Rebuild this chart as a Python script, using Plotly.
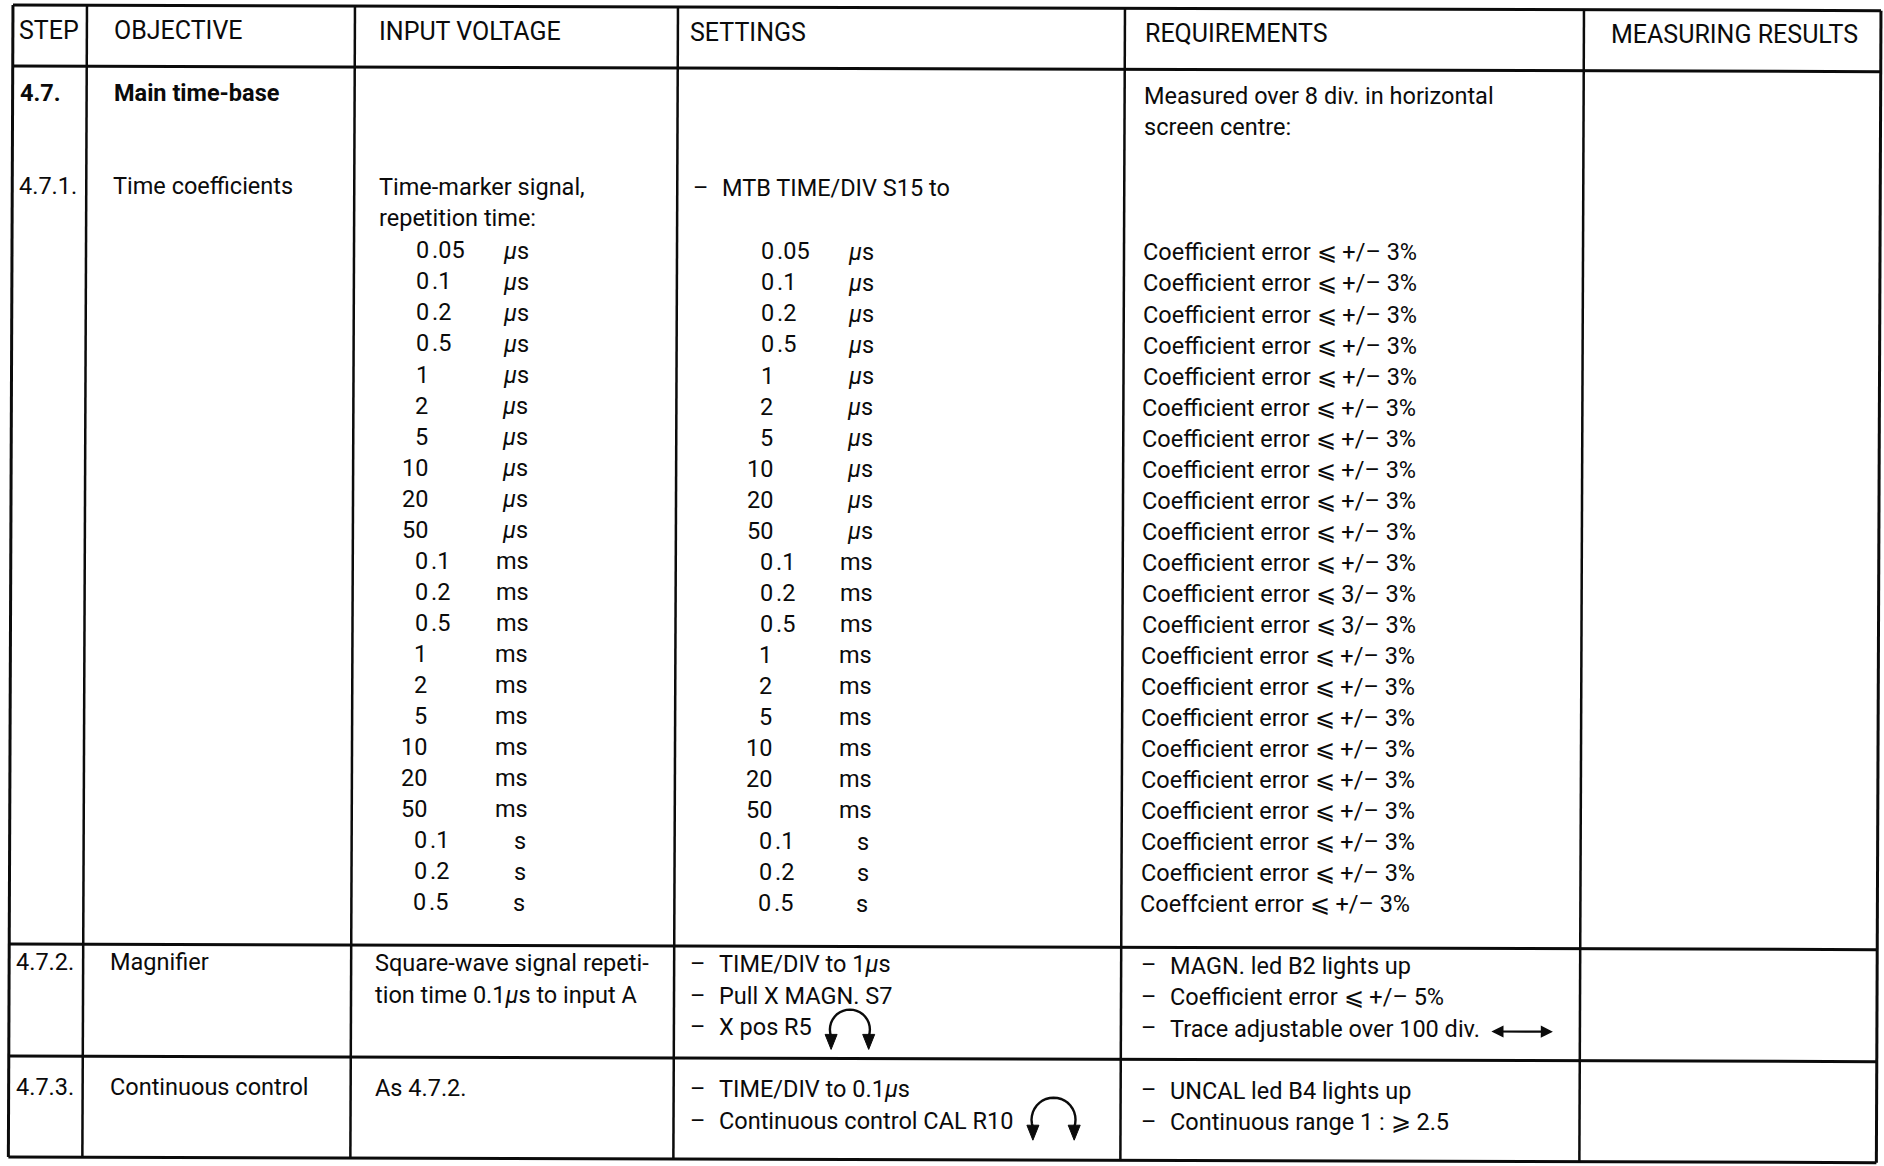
import math
import plotly.graph_objects as go

# page / scan geometry (pixels)
W, H = 1884, 1166
KV, KH = 0.004, 0.003        # slight tilt of the scanned sheet
FONT = "Roboto"
BODY = 23.5
HEAD = 25
INK = "#0b0b0b"

# --- table content ---
headers = ["STEP", "OBJECTIVE", "INPUT VOLTAGE", "SETTINGS", "REQUIREMENTS", "MEASURING RESULTS"]
steps = ["<b>4.7.</b>", "4.7.1.", "4.7.2.", "4.7.3."]
objectives = ["<b>Main time-base</b>", "Time coefficients", "Magnifier", "Continuous control"]

time_values = ["0.05", "0.1", "0.2", "0.5", "1", "2", "5", "10", "20", "50",
               "0.1", "0.2", "0.5", "1", "2", "5", "10", "20", "50",
               "0.1", "0.2", "0.5"]
time_units = ["µs", "µs", "µs", "µs", "µs", "µs", "µs", "µs", "µs", "µs",
              "ms", "ms", "ms", "ms", "ms", "ms", "ms", "ms", "ms",
              "s", "s", "s"]
setting_values = ["0.05", "0.1", "0.2", "0.5", "1", "2", "5", "10", "20", "50",
                  "0.1", "0.2", "0.5", "1", "2", "5", "10", "20", "50",
                  "0.1", "0.2", "0.5"]
requirements = [
    "Coefficient error ⩽ +/– 3%", "Coefficient error ⩽ +/– 3%", "Coefficient error ⩽ +/– 3%",
    "Coefficient error ⩽ +/– 3%", "Coefficient error ⩽ +/– 3%", "Coefficient error ⩽ +/– 3%",
    "Coefficient error ⩽ +/– 3%", "Coefficient error ⩽ +/– 3%", "Coefficient error ⩽ +/– 3%",
    "Coefficient error ⩽ +/– 3%", "Coefficient error ⩽ +/– 3%", "Coefficient error ⩽ 3/– 3%",
    "Coefficient error ⩽ 3/– 3%", "Coefficient error ⩽ +/– 3%", "Coefficient error ⩽ +/– 3%",
    "Coefficient error ⩽ +/– 3%", "Coefficient error ⩽ +/– 3%", "Coefficient error ⩽ +/– 3%",
    "Coefficient error ⩽ +/– 3%", "Coefficient error ⩽ +/– 3%", "Coefficient error ⩽ +/– 3%",
    "Coeffcient error ⩽ +/– 3%",
]
input_notes_471 = ["Time-marker signal,", "repetition time:"]
input_notes_472 = ["Square-wave signal repeti-", "tion time 0.1<i>µ</i>s to input A"]
input_notes_473 = ["As 4.7.2."]
settings_471 = ["MTB TIME/DIV S15 to"]
settings_472 = ["TIME/DIV to 1<i>µ</i>s", "Pull X MAGN. S7", "X pos R5"]
settings_473 = ["TIME/DIV to 0.1<i>µ</i>s", "Continuous control CAL R10"]
req_47 = ["Measured over 8 div. in horizontal", "screen centre:"]
req_472 = ["MAGN. led B2 lights up", "Coefficient error ⩽ +/– 5%", "Trace adjustable over 100 div."]
req_473 = ["UNCAL led B4 lights up", "Continuous range 1 : ⩾ 2.5"]

# --- layout of the sheet (un-tilted coordinates) ---
col_u = [13, 87, 355, 678, 1125, 1584, 1881]
row_v = [5, 66, 944, 1056, 1157]
head_v = 30
v_47, v_471 = 93, 186
v_val0, v_step = 249, 31.05
v_472 = [962, 993.5, 1025]
v_473 = [1087, 1118.5]


def pos(u, v):
    return u - KV * v, v + KH * u


annotations = []


def txt(u, v, s, anchor="left", size=BODY):
    x, y = pos(u, v)
    annotations.append(dict(x=x, y=y, xref="x", yref="y", text=s, showarrow=False,
                            xanchor=anchor, yanchor="middle",
                            font=dict(family=FONT, size=size, color=INK)))


def italic_unit(u):
    return "<i>µ</i>s" if u == "µs" else u


# header
for hu, h in zip([17, 112, 377, 688, 1143, 1609], headers):
    txt(hu, head_v, h, size=HEAD)

# steps / objectives
for v, s, o in zip([v_47, v_471, v_472[0], v_473[0]], steps, objectives):
    txt(18, v, s)
    txt(112, v, o)

# input voltage column
txt(378, v_471, input_notes_471[0])
txt(378, v_471 + 31, input_notes_471[1])
for i, (val, unit) in enumerate(zip(time_values, time_units)):
    v = v_val0 + i * v_step
    ip, _, fp = val.partition(".")
    txt(432, v, ip, anchor="right")
    if fp:
        txt(431, v, "." + fp)
    txt({"µs": 502, "ms": 496, "s": 515}[unit], v, italic_unit(unit))
for k, s in enumerate(input_notes_472):
    txt(377, v_472[k], s)
txt(377, v_473[0], input_notes_473[0])

# settings column
txt(692, v_471, "–")
txt(721, v_471, settings_471[0])
for i, (val, unit) in enumerate(zip(setting_values, time_units)):
    v = v_val0 + i * v_step
    ip, _, fp = val.partition(".")
    txt(777, v, ip, anchor="right")
    if fp:
        txt(776, v, "." + fp)
    txt({"µs": 847, "ms": 840, "s": 858}[unit], v, italic_unit(unit))
for k, s in enumerate(settings_472):
    txt(692, v_472[k], "–")
    txt(721, v_472[k], s)
for k, s in enumerate(settings_473):
    txt(692, v_473[k], "–")
    txt(721, v_473[k], s)

# requirements column
txt(1142, v_47, req_47[0])
txt(1142, v_47 + 31, req_47[1])
for i, r in enumerate(requirements):
    txt(1142, v_val0 + i * v_step, r)
for k, s in enumerate(req_472):
    txt(1143, v_472[k], "–")
    txt(1172, v_472[k], s)
for k, s in enumerate(req_473):
    txt(1143, v_473[k], "–")
    txt(1172, v_473[k], s)

# double arrow after "Trace adjustable over 100 div."
ax0, ay0 = pos(1494, v_472[2] + 2)
ax1, ay1 = pos(1557, v_472[2] + 2)
annotations.append(dict(x=ax1, y=ay1, ax=ax0, ay=ay0, xref="x", yref="y", axref="x", ayref="y",
                        text="", showarrow=True, arrowhead=2, arrowside="end+start",
                        arrowsize=1.1, arrowwidth=2.2, arrowcolor=INK))

# --- ruling lines ---
shapes = []
for v in row_v:
    x0, y0 = pos(col_u[0], v)
    x1, y1 = pos(col_u[-1], v)
    shapes.append(dict(type="line", x0=x0, y0=y0, x1=x1, y1=y1, xref="x", yref="y",
                       line=dict(color=INK, width=3)))
for u in col_u:
    x0, y0 = pos(u, row_v[0])
    x1, y1 = pos(u, row_v[-1])
    shapes.append(dict(type="line", x0=x0, y0=y0, x1=x1, y1=y1, xref="x", yref="y",
                       line=dict(color=INK, width=3 if u in (col_u[0], col_u[-1]) else 2.5)))


# circular "turn the knob" arrows
def knob_arrow(cu, cv, r):
    cx, cy = pos(cu, cv)
    pts = []
    for a in range(200, -21, -10):
        t = math.radians(a)
        pts.append((cx + r * math.cos(t), cy - r * math.sin(t)))
    path = "M " + " L ".join(f"{px:.1f},{py:.1f}" for px, py in pts)
    shapes.append(dict(type="path", path=path, xref="x", yref="y",
                       line=dict(color=INK, width=2.4)))
    for ex, ey in (pts[0], pts[-1]):
        tri = f"M {ex - 6:.1f},{ey - 2:.1f} L {ex + 6:.1f},{ey - 2:.1f} L {ex:.1f},{ey + 13:.1f} Z"
        shapes.append(dict(type="path", path=tri, xref="x", yref="y",
                           fillcolor=INK, line=dict(color=INK, width=1)))


knob_arrow(854, v_472[2] + 2, 20)
knob_arrow(1058, v_473[1] - 2, 22)

fig = go.Figure()
fig.update_layout(
    width=W, height=H,
    margin=dict(l=0, r=0, t=0, b=0),
    paper_bgcolor="white", plot_bgcolor="white",
    xaxis=dict(range=[0, W], visible=False, fixedrange=True),
    yaxis=dict(range=[H, 0], visible=False, fixedrange=True),
    showlegend=False,
    annotations=annotations,
    shapes=shapes,
)

fig.write_html("out.html", config={"displayModeBar": False},
               post_script="document.body.style.margin='0';document.body.style.overflow='hidden';")
